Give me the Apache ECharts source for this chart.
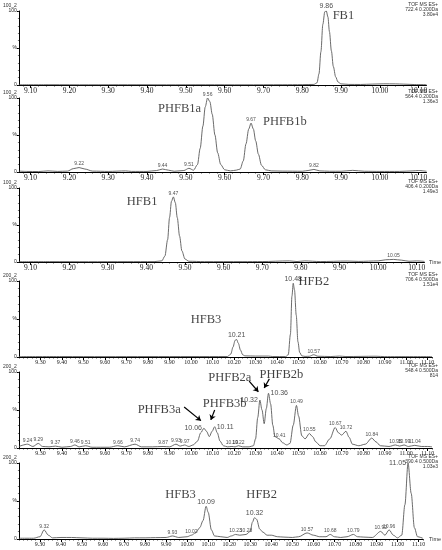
<!DOCTYPE html>
<html>
<head>
<meta charset="utf-8">
<script src="https://cdn.jsdelivr.net/npm/echarts@6/dist/echarts.min.js"></script>
<style>
html,body{margin:0;padding:0;background:#fff;}
#chart{width:442px;height:550px;}
</style>
</head>
<body>
<div id="chart"></div>
<script>
// tick labels of the two time windows
const ticksA = [9.10, 9.20, 9.30, 9.40, 9.50, 9.60, 9.70, 9.80, 9.90, 10.00, 10.10];
const ticksB = [9.30, 9.40, 9.50, 9.60, 9.70, 9.80, 9.90, 10.00, 10.10, 10.20, 10.30, 10.40, 10.50, 10.60, 10.70, 10.80, 10.90, 11.00, 11.10];

// traces: [time (min), relative intensity (%)]
const trace1 = [[9.07,0.3],[9.15,0.4],[9.25,0.3],[9.35,0.4],[9.45,0.3],[9.55,0.4],[9.65,0.3],[9.75,0.4],[9.80,0.5],[9.83,0.8],[9.838,3],[9.843,15],[9.848,45],[9.853,82],[9.858,99],[9.862,100],[9.866,92],[9.870,72],[9.875,46],[9.880,25],[9.886,11],[9.892,4],[9.90,1.5],[9.92,0.8],[9.95,0.7],[9.98,1.2],[10.01,1.6],[10.04,1.5],[10.06,1.2],[10.09,0.6],[10.12,0.4]];
const trace2 = [[9.07,1.2],[9.09,0.8],[9.12,0.6],[9.145,1.5],[9.17,0.8],[9.195,1.2],[9.21,4.5],[9.225,6],[9.24,4],[9.26,1.2],[9.30,0.8],[9.345,1.5],[9.36,0.8],[9.40,0.8],[9.425,2],[9.44,4],[9.455,2.5],[9.47,1],[9.495,2],[9.508,5],[9.52,2.5],[9.53,10],[9.537,32],[9.544,62],[9.55,88],[9.556,100],[9.562,95],[9.568,78],[9.575,50],[9.582,26],[9.59,10],[9.60,3],[9.615,1.5],[9.63,2.5],[9.64,4],[9.648,15],[9.655,38],[9.662,58],[9.668,66],[9.674,58],[9.68,42],[9.687,24],[9.695,9],[9.705,3],[9.72,1.5],[9.75,1.2],[9.80,1],[9.815,2],[9.83,3.5],[9.845,1.5],[9.87,1],[9.90,1],[9.93,2.2],[9.96,1],[10.00,0.8],[10.05,0.8],[10.085,1.5],[10.10,2],[10.12,1]];
const trace3 = [[9.07,0.4],[9.15,0.5],[9.25,0.4],[9.35,0.5],[9.42,0.5],[9.44,1.5],[9.448,8],[9.455,30],[9.46,60],[9.465,82],[9.47,88],[9.475,80],[9.48,60],[9.486,35],[9.492,15],[9.50,4],[9.51,1],[9.55,0.5],[9.65,0.5],[9.70,0.6],[9.77,1.5],[9.79,0.6],[9.81,1.5],[9.85,0.6],[9.92,1.3],[9.95,0.8],[10.00,1.5],[10.02,3],[10.04,3.5],[10.06,2.5],[10.08,1],[10.10,1.5],[10.12,0.8]];
const trace4 = [[9.20,0.5],[9.40,0.6],[9.60,0.5],[9.80,0.6],[10.00,0.6],[10.17,0.6],[10.185,4],[10.195,13],[10.205,22],[10.212,23],[10.22,18],[10.23,9],[10.24,3],[10.25,1.5],[10.30,1.2],[10.36,1.2],[10.38,0.6],[10.44,0.5],[10.452,3],[10.462,30],[10.469,80],[10.475,97],[10.481,88],[10.489,55],[10.497,20],[10.505,6],[10.515,1.5],[10.53,0.8],[10.55,1],[10.57,3],[10.59,1],[10.65,0.6],[10.69,1.2],[10.72,0.6],[10.86,1],[10.90,0.5],[11.12,0.5]];
const trace5 = [[9.20,2],[9.24,5],[9.265,2],[9.29,6],[9.31,2],[9.34,1.5],[9.37,2.5],[9.40,1],[9.44,2],[9.46,4],[9.48,1.5],[9.51,3],[9.54,1],[9.58,1],[9.62,1],[9.66,3],[9.69,1.5],[9.74,5],[9.77,1.5],[9.82,1.5],[9.87,2],[9.90,1.5],[9.93,5],[9.95,2.5],[9.97,4],[9.99,2],[10.01,4],[10.03,9],[10.045,20],[10.06,26],[10.072,22],[10.085,15],[10.098,22],[10.11,28],[10.122,20],[10.135,9],[10.15,3],[10.17,1.5],[10.19,2],[10.205,1.5],[10.22,3],[10.24,1.5],[10.27,1.5],[10.29,3],[10.30,12],[10.31,40],[10.32,63],[10.33,50],[10.34,32],[10.35,52],[10.36,72],[10.37,58],[10.38,30],[10.39,15],[10.41,12],[10.425,7],[10.445,4],[10.46,6],[10.475,30],[10.49,56],[10.50,42],[10.515,16],[10.53,12],[10.55,19],[10.565,15],[10.58,8],[10.60,3],[10.62,3],[10.645,12],[10.67,27],[10.685,20],[10.70,17],[10.72,22],[10.735,14],[10.75,5],[10.78,3],[10.81,5],[10.84,13],[10.86,8],[10.88,3],[10.92,2],[10.95,4],[10.97,2.5],[10.99,4],[11.01,2],[11.04,3.5],[11.07,2],[11.10,2],[11.12,1.5]];
const trace6 = [[9.20,1],[9.27,1],[9.30,3],[9.32,12],[9.34,5],[9.36,1.5],[9.40,2],[9.45,2],[9.50,1.5],[9.55,1],[9.60,1],[9.65,0.8],[9.70,1],[9.75,1.5],[9.80,1.5],[9.85,1.8],[9.90,2],[9.93,4],[9.96,2],[10.00,3],[10.02,5],[10.04,8],[10.06,15],[10.075,24],[10.09,43],[10.10,35],[10.115,12],[10.13,4],[10.16,3],[10.19,2],[10.21,4],[10.23,6],[10.25,5],[10.28,6],[10.30,10],[10.31,22],[10.32,28],[10.33,26],[10.345,13],[10.36,9],[10.38,5],[10.40,5],[10.43,3],[10.46,2.5],[10.50,2],[10.53,3],[10.57,8],[10.60,5],[10.63,3],[10.66,3],[10.68,6],[10.70,3],[10.73,2],[10.76,3],[10.79,6],[10.81,3],[10.84,2.5],[10.88,2],[10.92,10],[10.94,5],[10.96,12],[10.98,5],[11.00,1.5],[11.02,5],[11.035,45],[11.05,100],[11.065,60],[11.08,15],[11.095,3],[11.12,1]];

// retention time labels: [time, intensity, text]
const peaks1 = [[9.862,100,'9.86']];
const peaks2 = [[9.225,6,'9.22'],[9.44,4,'9.44'],[9.508,5,'9.51'],[9.556,100,'9.56'],[9.668,66,'9.67'],[9.83,3.5,'9.82']];
const peaks3 = [[9.47,88,'9.47'],[10.04,3.5,'10.05']];
const peaks4 = [[10.212,23,'10.21'],[10.475,97,'10.48'],[10.57,3,'10.57']];
const peaks5 = [[9.24,5,'9.24'],[9.29,6,'9.29'],[9.37,2.5,'9.37'],[9.46,4,'9.46'],[9.51,3,'9.51'],[9.66,3,'9.66'],[9.74,5,'9.74'],[9.87,2,'9.87'],[9.93,5,'9.93'],[9.97,4,'9.97'],[10.06,26,'10.06'],[10.11,28,'10.11'],[10.19,2,'10.19'],[10.22,3,'10.22'],[10.32,63,'10.32'],[10.36,72,'10.36'],[10.41,12,'10.41'],[10.49,56,'10.49'],[10.55,19,'10.55'],[10.67,27,'10.67'],[10.72,22,'10.72'],[10.84,13,'10.84'],[10.95,4,'10.95'],[10.99,4,'10.99'],[11.04,3.5,'11.04']];
const peaks6 = [[9.32,12,'9.32'],[9.93,4,'9.93'],[10.02,5,'10.02'],[10.09,43,'10.09'],[10.23,6,'10.23'],[10.28,6,'10.28'],[10.32,28,'10.32'],[10.57,8,'10.57'],[10.68,6,'10.68'],[10.79,6,'10.79'],[10.92,10,'10.92'],[10.96,12,'10.96'],[11.05,100,'11.05']];

// compound names: [time, intensity, text]
const names1 = [[9.906,93,'FB1']];
const names2 = [[9.484,86,'PHFB1a'],[9.755,68,'PHFB1b']];
const names3 = [[9.389,81,'HFB1']];
const names4 = [[10.07,49,'HFB3'],[10.571,99,'HFB2']];
const names5 = [[9.852,51,'PHFB3a'],[10.156,58,'PHFB3b'],[10.18,92,'PHFB2a'],[10.42,97,'PHFB2b']];
const names6 = [[9.968,58,'HFB3'],[10.354,58,'HFB2']];

// arrows in panel 5: [fromTime, fromInt, toTime, toInt]
const arrows5 = [[9.968,54,10.046,36],[10.11,50,10.092,37],[10.27,88,10.313,74],[10.364,91,10.34,79]];

// trace headers
const head1 = ['TOF MS ES+', '722.4 0.200Da', '3.80e4'];
const head2 = ['TOF MS ES+', '564.4 0.200Da', '1.36e3'];
const head3 = ['TOF MS ES+', '406.4 0.200Da', '1.49e3'];
const head4 = ['TOF MS ES+', '706.4 0.500Da', '1.51e4'];
const head5 = ['TOF MS ES+', '548.4 0.500Da', '814'];
const head6 = ['TOF MS ES+', '390.4 0.500Da', '1.03e3'];

// bigger labels and side placement
const bigLabels = ['9.86', '10.21', '10.48', '10.06', '10.11', '10.32', '10.36', '10.09', '11.05'];
const sideOf = {'5:10.06': 'left', '5:10.11': 'right', '5:10.32': 'left', '5:10.36': 'right', '6:11.05': 'left'};

const panels = [
  {trace: trace1, peaks: peaks1, names: names1, head: head1, top: 11, h: 74, ticks: ticksA, min: 9.07, max: 10.12, right: 15.5, tag: '100_2', time: false, fs: 7.5},
  {trace: trace2, peaks: peaks2, names: names2, head: head2, top: 98, h: 74, ticks: ticksA, min: 9.07, max: 10.12, right: 15.5, tag: '100_2', time: false, fs: 7.5},
  {trace: trace3, peaks: peaks3, names: names3, head: head3, top: 188, h: 74, ticks: ticksA, min: 9.07, max: 10.12, right: 15.5, tag: '100_2', time: true, fs: 7.5},
  {trace: trace4, peaks: peaks4, names: names4, head: head4, top: 281, h: 76, ticks: ticksB, min: 9.20, max: 11.12, right: 10, tag: '200_2', time: false, fs: 6},
  {trace: trace5, peaks: peaks5, names: names5, head: head5, top: 372, h: 76, ticks: ticksB, min: 9.20, max: 11.12, right: 10, tag: '200_2', time: false, fs: 6},
  {trace: trace6, peaks: peaks6, names: names6, head: head6, top: 463, h: 76, ticks: ticksB, min: 9.20, max: 11.12, right: 10, tag: '200_2', time: true, fs: 6}
];

const grid = [], xAxis = [], yAxis = [], series = [], graphic = [];

panels.forEach((p, i) => {
  grid.push({left: 16, right: p.right, top: p.top, height: p.h});
  // minor tick positions every 0.02
  const minor = [];
  for (let k = Math.ceil(p.min * 50); k <= Math.floor(p.max * 50); k++) minor.push(k / 50);
  xAxis.push({
    type: 'value', gridIndex: i, min: p.min, max: p.max, position: 'bottom',
    axisLine: {onZero: false, lineStyle: {color: '#000', width: 1}},
    axisTick: {customValues: p.ticks, length: 3, lineStyle: {color: '#000'}},
    axisLabel: {customValues: p.ticks, formatter: v => v.toFixed(2), fontFamily: 'Liberation Serif', fontSize: p.fs, color: '#222', margin: 2},
    splitLine: {show: false},
    name: p.time ? 'Time' : '', nameLocation: 'end', nameGap: 3,
    nameTextStyle: {fontSize: 5.5, color: '#333', verticalAlign: 'middle'}
  });
  xAxis.push({
    type: 'value', gridIndex: i, min: p.min, max: p.max, position: 'bottom',
    axisLine: {show: false},
    axisTick: {customValues: minor, length: 1.5, lineStyle: {color: '#000', width: 0.7}},
    axisLabel: {show: false}, splitLine: {show: false}
  });
  yAxis.push({
    type: 'value', gridIndex: i, min: 0, max: 100, interval: 50,
    axisLine: {show: true, lineStyle: {color: '#000', width: 1}},
    axisTick: {show: true, length: 2, lineStyle: {color: '#000'}},
    minorTick: {show: true, splitNumber: 5, length: 1, lineStyle: {color: '#000', width: 0.6}},
    axisLabel: {formatter: v => v === 50 ? '%' : String(v), fontSize: 5, color: '#222', margin: 2},
    splitLine: {show: false},
    name: p.tag, nameLocation: 'end', nameGap: 3,
    nameTextStyle: {fontSize: 5, color: '#333', align: 'right', padding: [0, 2, 0, 0]}
  });

  series.push({
    type: 'line', xAxisIndex: 2 * i, yAxisIndex: i, data: p.trace,
    showSymbol: false, smooth: 0.3, smoothMonotone: 'x', silent: true,
    lineStyle: {color: '#5a5a5a', width: 0.9}
  });

  series.push({
    type: 'scatter', xAxisIndex: 2 * i, yAxisIndex: i, symbolSize: 0, silent: true, clip: false,
    data: p.peaks.map(d => {
      const big = bigLabels.includes(d[2]);
      const side = sideOf[(i + 1) + ':' + d[2]];
      return {
        value: d,
        label: {
          position: side || 'top', distance: side ? 2 : 1,
          fontSize: big ? 7 : 5, fontFamily: 'Liberation Sans'
        }
      };
    }),
    label: {show: true, formatter: q => q.value[2], color: '#222'}
  });

  const nameSeries = {
    type: 'scatter', xAxisIndex: 2 * i, yAxisIndex: i, symbolSize: 0, silent: true, clip: false,
    data: p.names,
    label: {show: true, position: 'inside', formatter: q => q.value[2],
      fontFamily: 'Liberation Serif', fontSize: 12.5, color: '#111'}
  };
  if (i === 4) {
    nameSeries.markLine = {
      silent: true, animation: false, symbol: ['none', 'arrow'], symbolSize: 5,
      lineStyle: {color: '#000', width: 1.2, type: 'solid'},
      label: {show: false},
      data: arrows5.map(a => [{coord: [a[0], a[1]]}, {coord: [a[2], a[3]]}])
    };
  }
  series.push(nameSeries);

  graphic.push({
    type: 'text', right: 4, top: p.top - 9,
    style: {text: p.head.join('\n'), font: '5px Liberation Sans', fill: '#333', textAlign: 'right', lineHeight: 5}
  });
});

const chart = echarts.init(document.getElementById('chart'), null, {renderer: 'canvas'});
chart.setOption({
  animation: false,
  backgroundColor: '#fff',
  grid, xAxis, yAxis, series, graphic
});
</script>
</body>
</html>
